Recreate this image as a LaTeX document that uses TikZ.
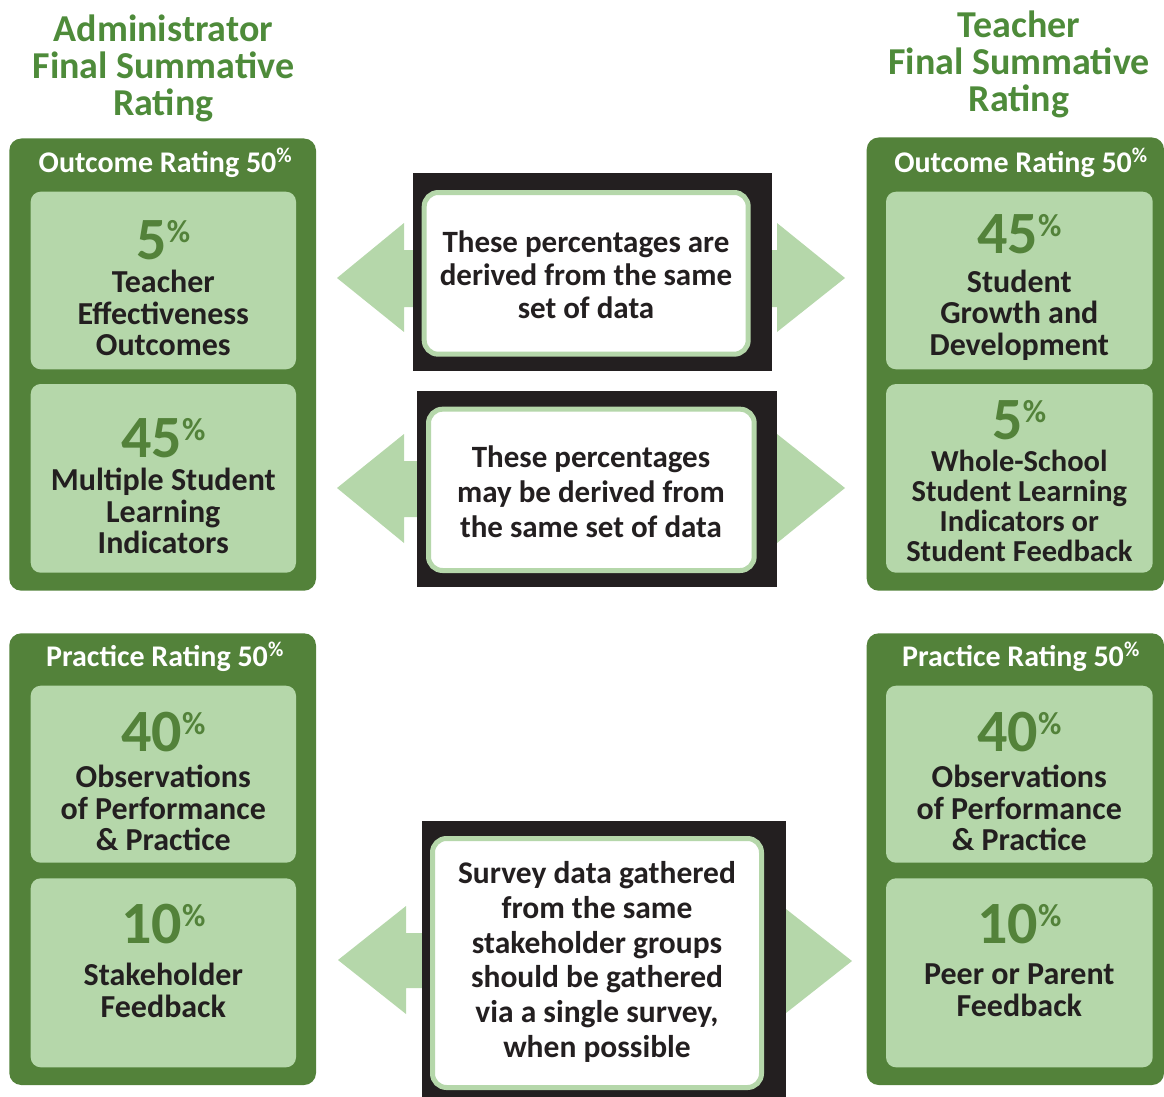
\documentclass[tikz,border=0pt]{standalone}
\usepackage{fontspec}
\setmainfont{Carlito}
\definecolor{dkgreen}{HTML}{53823A}
\definecolor{ltgreen}{HTML}{B5D7AA}
\definecolor{ttlgreen}{HTML}{4E8B3A}
\definecolor{inkblack}{HTML}{231F20}
\newcommand\bignum[1]{{\bfseries\fontsize{60}{60}\selectfont #1}\raisebox{17pt}{\bfseries\fontsize{32}{32}\selectfont\%}}
\newcommand\hdrpct{50\textsuperscript{\%}}
\begin{document}
\begin{tikzpicture}[x=1pt,y=-1pt,
  panel/.style={fill=dkgreen, rounded corners=12pt, anchor=north west, inner sep=0pt, outer sep=0pt},
  inbox/.style={fill=ltgreen, rounded corners=10pt, anchor=north west, inner sep=0pt, outer sep=0pt},
  blkbox/.style={fill=inkblack, anchor=north west, inner sep=0pt, outer sep=0pt},
  whtbox/.style={fill=white, draw=ltgreen, line width=5pt, rounded corners=14pt, anchor=north west, inner sep=0pt, outer sep=0pt},
  arrowfill/.style={fill=ltgreen},
  ttl/.style={text=ttlgreen, font=\bfseries\fontsize{38}{37}\selectfont, align=center, inner sep=0pt, anchor=north},
  hdr/.style={text=white, font=\bfseries\fontsize{30}{30}\selectfont, inner sep=0pt, anchor=base},
  body/.style={text=inkblack, font=\bfseries\fontsize{32}{31.6}\selectfont, align=center, inner sep=0pt, anchor=north},
  smallbody/.style={body, font=\bfseries\fontsize{30.5}{30}\selectfont},
  midtext/.style={text=inkblack, font=\bfseries\fontsize{31}{34}\selectfont, align=center, inner sep=0pt, anchor=north},
  num/.style={text=dkgreen, inner sep=0pt, anchor=base}
]
\useasboundingbox (0,0) rectangle (1164,1097);

% ---------- titles
\node[ttl] (tAdm) at (163.4,15) {Administrator\\Final Summative\\Rating};
\node[ttl] (tTch) at (1019,11) {Teacher\\Final Summative\\Rating};

% ---------- arrows (behind middle boxes)
\fill[arrowfill] (416,250) -- (404,250) -- (404,223) -- (337,278) -- (404,332) -- (404,307) -- (416,307) -- cycle;
\fill[arrowfill] (770,250) -- (777,250) -- (777,223) -- (845,278) -- (777,332) -- (777,307) -- (770,307) -- cycle;
\fill[arrowfill] (420,461) -- (404,461) -- (404,434) -- (337,488) -- (404,543) -- (404,517) -- (420,517) -- cycle;
\fill[arrowfill] (774,461) -- (777,461) -- (777,434) -- (845,488) -- (777,543) -- (777,517) -- (774,517) -- cycle;
\fill[arrowfill] (425,933) -- (406,933) -- (406,906) -- (338,960) -- (406,1014) -- (406,988) -- (425,988) -- cycle;
\fill[arrowfill] (783,933) -- (786,933) -- (786,909) -- (852,961) -- (786,1013) -- (786,988) -- (783,988) -- cycle;

% ---------- middle boxes
\node[blkbox, minimum width=359, minimum height=198] (bA) at (413,173) {};
\node[whtbox, minimum width=324, minimum height=161.7] (wA) at (424.2,192.5) {};
\node[midtext, font=\bfseries\fontsize{31}{33.3}\selectfont] (mA) at (586,230.3) {These percentages are\\derived from the same\\set of data};

\node[blkbox, minimum width=360, minimum height=196.3] (bB) at (416.7,390.7) {};
\node[whtbox, minimum width=325.7, minimum height=161.3] (wB) at (428.5,409.2) {};
\node[midtext, font=\bfseries\fontsize{31}{34.7}\selectfont] (mB) at (591,445.9) {These percentages\\may be derived from\\the same set of data};

\node[blkbox, minimum width=364, minimum height=276] (bC) at (422,821) {};
\node[whtbox, minimum width=329, minimum height=249] (wC) at (432.5,838.5) {};
\node[midtext, font=\bfseries\fontsize{31.5}{34.7}\selectfont] (mC) at (597,861.5) {Survey data gathered\\from the same\\stakeholder groups\\should be gathered\\via a single survey,\\when possible};

% ---------- left (administrator) panels
\node[panel, minimum width=306.7, minimum height=452.2] (pAO) at (9.3,138.5) {};
\node[hdr] (hAO) at (165.5,172) {Outcome Rating \hdrpct};
\node[inbox, minimum width=265.3, minimum height=177.6] (iA1) at (30.7,191.7) {};
\node[num] (nA1) at (163.3,259) {\bignum{5}};
\node[body] (xA1) at (163.3,270) {Teacher\\Effectiveness\\Outcomes};
\node[inbox, minimum width=265.3, minimum height=188.7] (iA2) at (30.7,384) {};
\node[num] (nA2) at (163.3,457) {\bignum{45}};
\node[body] (xA2) at (163.3,468) {Multiple Student\\Learning\\Indicators};

\node[panel, minimum width=306.7, minimum height=451.7] (pAP) at (9.3,633.3) {};
\node[hdr] (hAP) at (165,666) {Practice Rating \hdrpct};
\node[inbox, minimum width=265.3, minimum height=177] (iA3) at (30.7,685.7) {};
\node[num] (nA3) at (163.3,751.5) {\bignum{40}};
\node[body] (xA3) at (163.3,764.7) {Observations\\of Performance\\\&~Practice};
\node[inbox, minimum width=265.3, minimum height=189] (iA4) at (30.7,878.3) {};
\node[num] (nA4) at (163.3,943) {\bignum{10}};
\node[body] (xA4) at (163.3,963) {Stakeholder\\Feedback};

% ---------- right (teacher) panels
\node[panel, minimum width=297.3, minimum height=453.2] (pTO) at (866.7,137.5) {};
\node[hdr] (hTO) at (1021,172) {Outcome Rating \hdrpct};
\node[inbox, minimum width=266.7, minimum height=177.6] (iT1) at (886,191.7) {};
\node[num] (nT1) at (1019.3,253) {\bignum{45}};
\node[body] (xT1) at (1019.3,269.7) {Student\\Growth and\\Development};
\node[inbox, minimum width=266.7, minimum height=188.7] (iT2) at (886,384) {};
\node[num] (nT2) at (1019.3,439) {\bignum{5}};
\node[smallbody] (xT2) at (1019.3,450) {Whole-School\\Student Learning\\Indicators or\\Student Feedback};

\node[panel, minimum width=297.3, minimum height=451.7] (pTP) at (866.7,633.3) {};
\node[hdr] (hTP) at (1021,666) {Practice Rating \hdrpct};
\node[inbox, minimum width=266.7, minimum height=177] (iT3) at (886,685.7) {};
\node[num] (nT3) at (1019.3,751.5) {\bignum{40}};
\node[body] (xT3) at (1019.3,764.7) {Observations\\of Performance\\\&~Practice};
\node[inbox, minimum width=266.7, minimum height=189] (iT4) at (886,878.3) {};
\node[num] (nT4) at (1019.3,943) {\bignum{10}};
\node[body] (xT4) at (1019.3,964) {Peer or Parent\\Feedback};
\end{tikzpicture}
\end{document}
